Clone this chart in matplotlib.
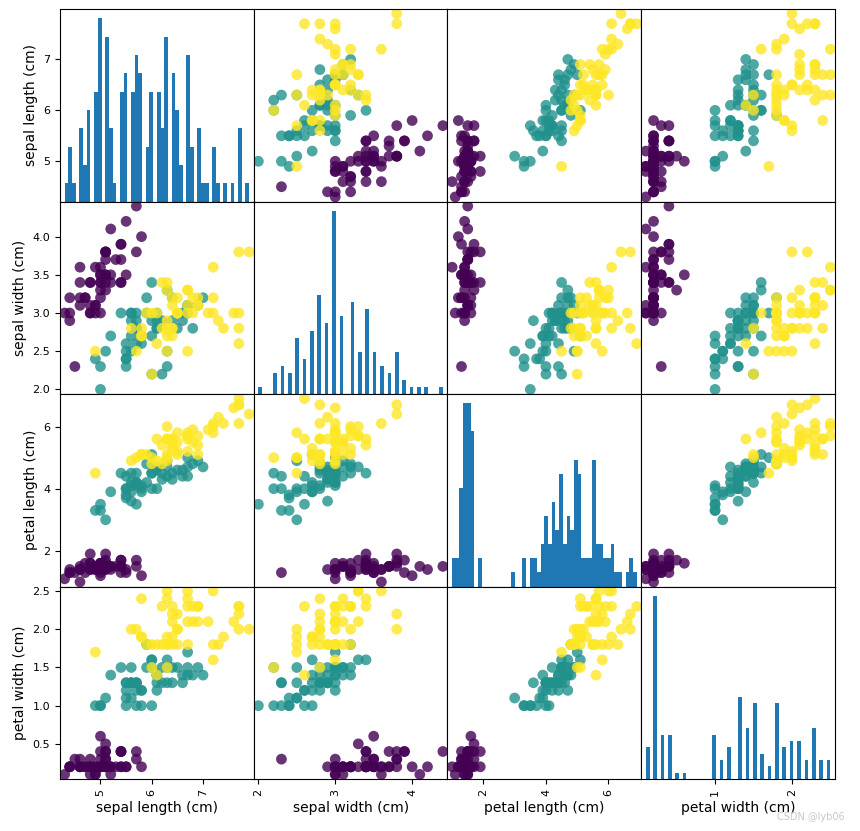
import pandas as pd
import matplotlib
matplotlib.use('Agg')
import matplotlib.pyplot as plt

FEATURES = ['sepal length (cm)', 'sepal width (cm)', 'petal length (cm)', 'petal width (cm)']

sepal_length = [
    5.1, 4.9, 4.7, 4.6, 5.0, 5.4, 4.6, 5.0, 4.4, 4.9, 5.4, 4.8, 4.8, 4.3, 5.8, 5.7, 5.4, 5.1, 5.7, 5.1,
    5.4, 5.1, 4.6, 5.1, 4.8, 5.0, 5.0, 5.2, 5.2, 4.7, 4.8, 5.4, 5.2, 5.5, 4.9, 5.0, 5.5, 4.9, 4.4, 5.1,
    5.0, 4.5, 4.4, 5.0, 5.1, 4.8, 5.1, 4.6, 5.3, 5.0,
    7.0, 6.4, 6.9, 5.5, 6.5, 5.7, 6.3, 4.9, 6.6, 5.2, 5.0, 5.9, 6.0, 6.1, 5.6, 6.7, 5.6, 5.8, 6.2, 5.6,
    5.9, 6.1, 6.3, 6.1, 6.4, 6.6, 6.8, 6.7, 6.0, 5.7, 5.5, 5.5, 5.8, 6.0, 5.4, 6.0, 6.7, 6.3, 5.6, 5.5,
    5.5, 6.1, 5.8, 5.0, 5.6, 5.7, 5.7, 6.2, 5.1, 5.7,
    6.3, 5.8, 7.1, 6.3, 6.5, 7.6, 4.9, 7.3, 6.7, 7.2, 6.5, 6.4, 6.8, 5.7, 5.8, 6.4, 6.5, 7.7, 7.7, 6.0,
    6.9, 5.6, 7.7, 6.3, 6.7, 7.2, 6.2, 6.1, 6.4, 7.2, 7.4, 7.9, 6.4, 6.3, 6.1, 7.7, 6.3, 6.4, 6.0, 6.9,
    6.7, 6.9, 5.8, 6.8, 6.7, 6.7, 6.3, 6.5, 6.2, 5.9]
sepal_width = [
    3.5, 3.0, 3.2, 3.1, 3.6, 3.9, 3.4, 3.4, 2.9, 3.1, 3.7, 3.4, 3.0, 3.0, 4.0, 4.4, 3.9, 3.5, 3.8, 3.8,
    3.4, 3.7, 3.6, 3.3, 3.4, 3.0, 3.4, 3.5, 3.4, 3.2, 3.1, 3.4, 4.1, 4.2, 3.1, 3.2, 3.5, 3.6, 3.0, 3.4,
    3.5, 2.3, 3.2, 3.5, 3.8, 3.0, 3.8, 3.2, 3.7, 3.3,
    3.2, 3.2, 3.1, 2.3, 2.8, 2.8, 3.3, 2.4, 2.9, 2.7, 2.0, 3.0, 2.2, 2.9, 2.9, 3.1, 3.0, 2.7, 2.2, 2.5,
    3.2, 2.8, 2.5, 2.8, 2.9, 3.0, 2.8, 3.0, 2.9, 2.6, 2.4, 2.4, 2.7, 2.7, 3.0, 3.4, 3.1, 2.3, 3.0, 2.5,
    2.6, 3.0, 2.6, 2.3, 2.7, 3.0, 2.9, 2.9, 2.5, 2.8,
    3.3, 2.7, 3.0, 2.9, 3.0, 3.0, 2.5, 2.9, 2.5, 3.6, 3.2, 2.7, 3.0, 2.5, 2.8, 3.2, 3.0, 3.8, 2.6, 2.2,
    3.2, 2.8, 2.8, 2.7, 3.3, 3.2, 2.8, 3.0, 2.8, 3.0, 2.8, 3.8, 2.8, 2.8, 2.6, 3.0, 3.4, 3.1, 3.0, 3.1,
    3.1, 3.1, 2.7, 3.2, 3.3, 3.0, 2.5, 3.0, 3.4, 3.0]
petal_length = [
    1.4, 1.4, 1.3, 1.5, 1.4, 1.7, 1.4, 1.5, 1.4, 1.5, 1.5, 1.6, 1.4, 1.1, 1.2, 1.5, 1.3, 1.4, 1.7, 1.5,
    1.7, 1.5, 1.0, 1.7, 1.9, 1.6, 1.6, 1.5, 1.4, 1.6, 1.6, 1.5, 1.5, 1.4, 1.5, 1.2, 1.3, 1.4, 1.3, 1.5,
    1.3, 1.3, 1.3, 1.6, 1.9, 1.4, 1.6, 1.4, 1.5, 1.4,
    4.7, 4.5, 4.9, 4.0, 4.6, 4.5, 4.7, 3.3, 4.6, 3.9, 3.5, 4.2, 4.0, 4.7, 3.6, 4.4, 4.5, 4.1, 4.5, 3.9,
    4.8, 4.0, 4.9, 4.7, 4.3, 4.4, 4.8, 5.0, 4.5, 3.5, 3.8, 3.7, 3.9, 5.1, 4.5, 4.5, 4.7, 4.4, 4.1, 4.0,
    4.4, 4.6, 4.0, 3.3, 4.2, 4.2, 4.2, 4.3, 3.0, 4.1,
    6.0, 5.1, 5.9, 5.6, 5.8, 6.6, 4.5, 6.3, 5.8, 6.1, 5.1, 5.3, 5.5, 5.0, 5.1, 5.3, 5.5, 6.7, 6.9, 5.0,
    5.7, 4.9, 6.7, 4.9, 5.7, 6.0, 4.8, 4.9, 5.6, 5.8, 6.1, 6.4, 5.6, 5.1, 5.6, 6.1, 5.6, 5.5, 4.8, 5.4,
    5.6, 5.1, 5.1, 5.9, 5.7, 5.2, 5.0, 5.2, 5.4, 5.1]
petal_width = [
    0.2, 0.2, 0.2, 0.2, 0.2, 0.4, 0.3, 0.2, 0.2, 0.1, 0.2, 0.2, 0.1, 0.1, 0.2, 0.4, 0.4, 0.3, 0.3, 0.3,
    0.2, 0.4, 0.2, 0.5, 0.2, 0.2, 0.4, 0.2, 0.2, 0.2, 0.2, 0.4, 0.1, 0.2, 0.2, 0.2, 0.2, 0.1, 0.2, 0.2,
    0.3, 0.3, 0.2, 0.6, 0.4, 0.3, 0.2, 0.2, 0.2, 0.2,
    1.4, 1.5, 1.5, 1.3, 1.5, 1.3, 1.6, 1.0, 1.3, 1.4, 1.0, 1.5, 1.0, 1.4, 1.3, 1.4, 1.5, 1.0, 1.5, 1.1,
    1.8, 1.3, 1.5, 1.2, 1.3, 1.4, 1.4, 1.7, 1.5, 1.0, 1.1, 1.0, 1.2, 1.6, 1.5, 1.6, 1.5, 1.3, 1.3, 1.3,
    1.2, 1.4, 1.2, 1.0, 1.3, 1.2, 1.3, 1.3, 1.1, 1.3,
    2.5, 1.9, 2.1, 1.8, 2.2, 2.1, 1.7, 1.8, 1.8, 2.5, 2.0, 1.9, 2.1, 2.0, 2.4, 2.3, 1.8, 2.2, 2.3, 1.5,
    2.3, 2.0, 2.0, 1.8, 2.1, 1.8, 1.8, 1.8, 2.1, 1.6, 1.9, 2.0, 2.2, 1.5, 1.4, 2.3, 2.4, 1.8, 1.8, 2.1,
    2.4, 2.3, 1.9, 2.3, 2.5, 2.3, 1.9, 2.0, 2.3, 1.8]
target = [0] * 50 + [1] * 50 + [2] * 50


def main():
    df = pd.DataFrame({FEATURES[0]: sepal_length, FEATURES[1]: sepal_width,
                       FEATURES[2]: petal_length, FEATURES[3]: petal_width})
    axes = pd.plotting.scatter_matrix(df, c=target, figsize=(8.6, 8.31), marker='o',
                                      hist_kwds={'bins': 50}, s=60, alpha=.8)
    fig = axes[0, 0].get_figure()
    # 按参考图像素位置摆放
    fig.subplots_adjust(left=60 / 860, right=835 / 860, bottom=1 - 779 / 831, top=1 - 9 / 831,
                        wspace=0, hspace=0)
    fig.text(845 / 860, 1 - 820 / 831, 'CSDN @lyb06', color='#c8c8c8', fontsize=7, ha='right')
    plt.savefig('out.png', dpi=100)


if __name__ == '__main__':
    main()
